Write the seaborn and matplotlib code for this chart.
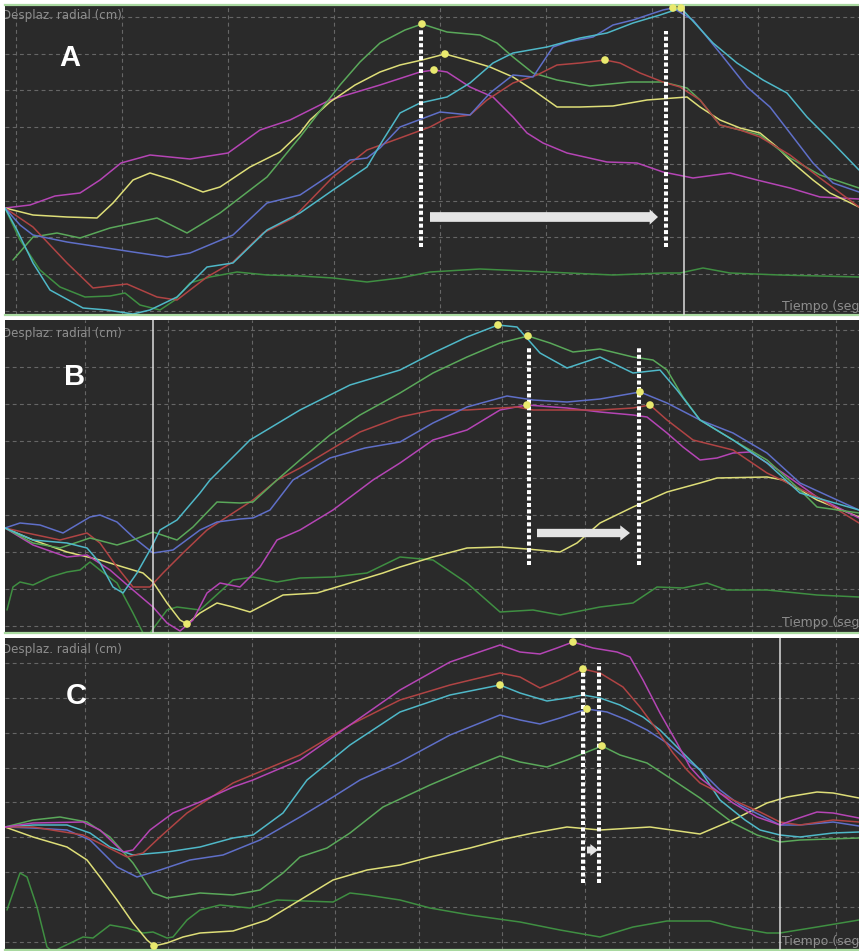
import matplotlib
matplotlib.use("Agg")
import matplotlib.pyplot as plt
import seaborn as sns

sns.set_theme(style="dark")
plt.rcParams["font.family"] = ["DejaVu Sans"]

# ---------------- Panel A: radial displacement per marker (time in frames) ----------------
A_T_GREEN = [13, 33, 57, 80, 110, 157, 187, 220, 267, 300, 340, 360, 380, 405, 422, 447, 480, 497, 513, 533, 557, 590, 630, 663, 687, 700, 720, 760, 790, 820, 859]
A_GREEN = [55, 78, 82, 77, 87, 97, 82, 102, 138, 178, 230, 253, 272, 285, 291, 283, 280, 272, 258, 242, 235, 229, 233, 233, 227, 215, 190, 180, 157, 140, 127]

A_T_YELLOW = [5, 33, 67, 97, 113, 133, 150, 173, 203, 220, 250, 280, 300, 310, 330, 355, 380, 400, 422, 445, 467, 490, 513, 533, 557, 580, 613, 647, 687, 700, 720, 740, 760, 777, 793, 813, 830, 859]
A_YELLOW = [107, 100, 98, 97, 112, 135, 142, 135, 123, 128, 148, 163, 182, 195, 213, 230, 243, 250, 255, 261, 255, 248, 238, 225, 208, 208, 209, 215, 218, 208, 195, 187, 182, 168, 152, 135, 122, 108]

A_T_MAGENTA = [5, 30, 55, 80, 100, 121, 150, 190, 228, 260, 290, 330, 380, 420, 434, 447, 470, 493, 513, 527, 543, 567, 607, 637, 663, 693, 730, 757, 790, 820, 859]
A_MAGENTA = [107, 110, 119, 122, 135, 152, 160, 156, 162, 185, 195, 215, 230, 243, 245, 243, 228, 218, 198, 182, 172, 162, 153, 152, 143, 137, 142, 135, 127, 118, 116]

A_T_RED = [5, 33, 67, 93, 127, 157, 177, 207, 233, 263, 293, 333, 367, 400, 430, 447, 470, 487, 513, 537, 557, 580, 605, 620, 640, 663, 680, 700, 720, 740, 760, 790, 820, 859]
A_RED = [107, 88, 52, 27, 31, 18, 15, 38, 53, 82, 97, 138, 165, 177, 188, 197, 200, 215, 232, 240, 250, 252, 255, 252, 242, 233, 228, 215, 190, 185, 178, 160, 137, 108]

A_T_BLUE = [5, 20, 33, 67, 100, 133, 167, 190, 233, 267, 300, 333, 350, 367, 380, 400, 440, 470, 490, 513, 533, 553, 567, 593, 613, 633, 663, 673, 693, 720, 747, 770, 790, 813, 833, 859]
A_BLUE = [107, 90, 80, 73, 68, 63, 58, 62, 80, 112, 120, 142, 155, 157, 167, 188, 203, 200, 222, 240, 238, 268, 273, 278, 290, 295, 305, 307, 295, 262, 228, 208, 182, 152, 132, 123]

A_T_CYAN = [5, 17, 33, 50, 83, 107, 133, 150, 177, 207, 233, 267, 300, 333, 367, 383, 400, 420, 447, 470, 493, 513, 547, 580, 607, 633, 660, 681, 713, 737, 763, 787, 807, 830, 859]
A_CYAN = [107, 85, 52, 25, 7, 5, 1, 5, 18, 48, 52, 85, 102, 125, 148, 175, 202, 212, 218, 232, 252, 262, 268, 277, 282, 292, 300, 307, 272, 252, 235, 222, 198, 175, 145]

A_T_DKGREEN = [5, 20, 40, 60, 85, 110, 125, 140, 160, 175, 190, 210, 237, 267, 300, 333, 367, 400, 430, 480, 547, 613, 663, 680, 703, 730, 780, 859]
A_DKGREEN = [107, 75, 45, 28, 18, 19, 22, 10, 5, 15, 32, 38, 43, 40, 39, 37, 33, 37, 43, 46, 43, 40, 42, 42, 47, 42, 40, 38]

A_PEAK_T = [422, 445, 434, 605, 673, 681]
A_PEAK_V = [291, 261, 245, 255, 307, 307]

# ---------------- Panel B ----------------
B_T_BLUE = [5, 20, 40, 63, 90, 100, 117, 133, 153, 173, 200, 217, 240, 253, 270, 293, 330, 365, 400, 433, 467, 507, 533, 567, 600, 640, 667, 700, 733, 767, 800, 859]
B_BLUE = [105, 110, 108, 100, 116, 118, 111, 96, 80, 83, 103, 111, 114, 115, 123, 153, 175, 185, 191, 210, 226, 237, 233, 231, 234, 241, 230, 213, 200, 180, 150, 123]

B_T_RED = [5, 27, 60, 87, 100, 117, 133, 150, 163, 183, 207, 233, 253, 277, 300, 330, 360, 400, 433, 467, 517, 533, 567, 600, 633, 650, 667, 693, 733, 767, 817, 859]
B_RED = [105, 100, 93, 100, 90, 66, 46, 46, 60, 80, 103, 120, 133, 153, 165, 183, 201, 216, 223, 223, 226, 223, 223, 223, 225, 228, 213, 193, 183, 160, 136, 110]

B_T_GREEN = [5, 33, 60, 90, 117, 133, 153, 177, 193, 217, 240, 253, 277, 300, 330, 360, 400, 433, 467, 500, 528, 550, 573, 600, 633, 653, 667, 683, 700, 733, 767, 800, 817, 859]
B_GREEN = [105, 90, 85, 95, 88, 93, 101, 93, 106, 131, 130, 131, 153, 173, 198, 218, 240, 260, 276, 290, 297, 290, 281, 284, 276, 273, 263, 236, 213, 193, 173, 143, 126, 120]

B_T_CYAN = [5, 33, 67, 87, 100, 113, 123, 137, 150, 160, 177, 200, 210, 250, 300, 350, 400, 433, 467, 498, 517, 540, 567, 600, 633, 660, 677, 700, 733, 767, 800, 859]
B_CYAN = [105, 93, 90, 85, 70, 46, 40, 60, 83, 103, 113, 140, 153, 193, 223, 248, 263, 280, 296, 308, 306, 280, 265, 276, 260, 263, 243, 213, 193, 170, 140, 123]

B_T_MAGENTA = [5, 33, 67, 87, 110, 133, 153, 167, 180, 193, 207, 220, 240, 260, 277, 300, 333, 373, 400, 433, 467, 500, 527, 567, 600, 633, 647, 667, 683, 700, 717, 733, 750, 783, 817, 859]
B_MAGENTA = [105, 88, 76, 78, 63, 43, 26, 10, 2, 13, 40, 50, 46, 66, 93, 103, 123, 153, 170, 193, 203, 223, 228, 225, 221, 218, 216, 200, 186, 173, 175, 180, 181, 160, 136, 115]

B_T_YELLOW = [5, 33, 67, 100, 123, 143, 153, 167, 180, 187, 200, 217, 233, 250, 283, 317, 350, 383, 400, 433, 467, 500, 527, 560, 577, 600, 633, 667, 700, 717, 767, 783, 817, 859]
B_YELLOW = [105, 93, 81, 73, 66, 60, 51, 30, 13, 9, 20, 30, 26, 21, 38, 40, 50, 60, 66, 76, 85, 86, 84, 81, 90, 110, 126, 141, 150, 155, 156, 153, 133, 116]

B_T_DKGREEN = [7, 13, 20, 33, 50, 67, 80, 90, 100, 117, 133, 143, 147, 150, 167, 177, 200, 233, 253, 277, 300, 333, 367, 400, 433, 467, 500, 533, 560, 600, 633, 657, 683, 707, 727, 767, 817, 859]
B_DKGREEN = [23, 46, 51, 48, 56, 61, 63, 71, 63, 50, 20, 0, -12, 0, 23, 26, 23, 53, 56, 51, 55, 56, 60, 76, 73, 50, 21, 23, 18, 26, 30, 46, 45, 50, 43, 43, 38, 36]

B_PEAK_T = [498, 528, 527, 640, 650, 187]
B_PEAK_V = [308, 297, 228, 241, 228, 9]

# ---------------- Panel C ----------------
C_T_MAGENTA = [5, 33, 83, 100, 123, 133, 150, 173, 200, 233, 253, 300, 350, 400, 450, 500, 520, 540, 557, 573, 593, 617, 630, 643, 660, 677, 690, 700, 733, 757, 780, 793, 817, 833, 859]
C_MAGENTA = [123, 127, 128, 120, 98, 100, 120, 137, 148, 163, 170, 190, 225, 260, 288, 305, 298, 296, 302, 308, 302, 298, 293, 270, 237, 207, 183, 172, 147, 133, 125, 130, 138, 137, 132]

C_T_RED = [5, 33, 83, 107, 127, 143, 160, 187, 207, 233, 300, 350, 400, 450, 500, 520, 540, 560, 583, 600, 623, 640, 657, 673, 687, 700, 733, 760, 780, 800, 833, 859]
C_RED = [123, 123, 115, 103, 93, 97, 113, 137, 150, 167, 195, 225, 250, 265, 277, 273, 262, 270, 281, 277, 263, 243, 220, 197, 180, 167, 150, 138, 128, 125, 130, 128]

C_T_CYAN = [5, 33, 67, 90, 110, 133, 167, 200, 233, 253, 283, 307, 350, 400, 450, 500, 520, 547, 567, 583, 600, 620, 643, 660, 680, 700, 720, 745, 760, 780, 800, 833, 859]
C_CYAN = [123, 125, 125, 117, 103, 95, 98, 103, 112, 115, 137, 170, 205, 238, 255, 265, 257, 249, 252, 255, 252, 245, 233, 220, 200, 180, 150, 130, 120, 115, 113, 117, 118]

C_T_BLUE = [5, 33, 67, 90, 117, 137, 160, 190, 223, 260, 300, 333, 360, 400, 450, 500, 520, 540, 560, 587, 607, 627, 647, 667, 687, 700, 720, 740, 760, 780, 800, 833, 859]
C_BLUE = [123, 122, 120, 110, 83, 73, 80, 90, 95, 110, 133, 153, 170, 188, 215, 235, 230, 226, 232, 241, 238, 230, 220, 207, 190, 180, 160, 145, 135, 125, 125, 128, 124]

C_T_GREEN = [5, 33, 60, 87, 110, 133, 153, 167, 200, 233, 260, 283, 300, 327, 350, 383, 430, 470, 500, 520, 547, 567, 587, 602, 620, 647, 673, 700, 733, 757, 780, 800, 859]
C_GREEN = [123, 130, 133, 128, 113, 87, 57, 52, 57, 55, 60, 77, 93, 102, 117, 143, 165, 182, 194, 188, 183, 190, 198, 204, 195, 187, 170, 152, 127, 115, 108, 110, 112]

C_T_YELLOW = [5, 33, 67, 87, 100, 117, 133, 147, 154, 167, 183, 200, 233, 267, 300, 333, 367, 400, 430, 470, 500, 533, 567, 600, 650, 700, 733, 767, 787, 817, 833, 859]
C_YELLOW = [123, 113, 103, 90, 73, 50, 27, 10, 4, 7, 13, 17, 19, 30, 50, 70, 80, 85, 93, 102, 110, 117, 123, 120, 123, 116, 130, 147, 153, 158, 157, 152]

C_T_DKGREEN = [7, 20, 27, 37, 47, 53, 60, 83, 93, 110, 127, 143, 153, 167, 173, 187, 200, 220, 250, 277, 333, 350, 367, 400, 430, 470, 520, 560, 600, 633, 667, 710, 733, 767, 780, 817, 859]
C_DKGREEN = [40, 77, 73, 43, 3, -2, 2, 13, 12, 25, 22, 17, 18, 12, 13, 30, 40, 45, 42, 50, 48, 57, 55, 50, 42, 35, 28, 20, 13, 23, 29, 29, 23, 17, 17, 23, 30]

C_PEAK_T = [573, 583, 500, 587, 602, 154]
C_PEAK_V = [308, 281, 265, 241, 204, 4]

# event markers (frames) and the cursor line of each recording
A_EVENTS, B_EVENTS, C_EVENTS = [421, 666], [529, 639], [583, 599]
A_CURSOR, B_CURSOR, C_CURSOR = 684, 153, 780

COLORS = {
    "green": "#5aa85a",
    "dkgreen": "#3f8f42",
    "yellow": "#dede78",
    "magenta": "#b545b5",
    "red": "#b04444",
    "blue": "#5f6fc8",
    "cyan": "#4fb8c8",
}

BG = "#2a2a2a"
GRID = "#666666"
BORDER = "#a9d9a0"
DOT = "#e9e96e"

W, H = 859, 951
fig = plt.figure(figsize=(W / 100, H / 100), dpi=100, facecolor="white")


def make_axes(top, bottom):
    return fig.add_axes([5 / W, 1 - bottom / H, (W - 5) / W, (bottom - top) / H])


panels = [
    dict(
        ax=make_axes(5, 315), letter="A", ymax=310, xgrid=(16, 106), ygrid=(4, 36.75),
        curves=[(A_T_DKGREEN, A_DKGREEN, "dkgreen"), (A_T_MAGENTA, A_MAGENTA, "magenta"),
                (A_T_YELLOW, A_YELLOW, "yellow"), (A_T_GREEN, A_GREEN, "green"),
                (A_T_RED, A_RED, "red"), (A_T_BLUE, A_BLUE, "blue"), (A_T_CYAN, A_CYAN, "cyan")],
        peaks=(A_PEAK_T, A_PEAK_V), events=A_EVENTS, ev_span=[(68, 287), (68, 284)],
        cursor=A_CURSOR, arrow=((430, 98), (658, 98), 0.7, 1.1, 0.6),
        label_y=0.965, letter_xy=(0.076, 0.829), tiempo_y=0.026, top_border=True,
    ),
    dict(
        ax=make_axes(320, 633), letter="B", ymax=313, xgrid=(85, 83.4), ygrid=(7, 37),
        curves=[(B_T_DKGREEN, B_DKGREEN, "dkgreen"), (B_T_YELLOW, B_YELLOW, "yellow"),
                (B_T_MAGENTA, B_MAGENTA, "magenta"), (B_T_RED, B_RED, "red"),
                (B_T_BLUE, B_BLUE, "blue"), (B_T_GREEN, B_GREEN, "green"), (B_T_CYAN, B_CYAN, "cyan")],
        peaks=(B_PEAK_T, B_PEAK_V), events=B_EVENTS, ev_span=[(68, 286), (68, 286)],
        cursor=B_CURSOR, arrow=((537, 100), (630, 100), 0.6, 1.1, 0.7),
        label_y=0.958, letter_xy=(0.082, 0.818), tiempo_y=0.032, top_border=False,
    ),
    dict(
        ax=make_axes(638, 950), letter="C", ymax=312, xgrid=(85, 83.4), ygrid=(8, 34.9),
        curves=[(C_T_DKGREEN, C_DKGREEN, "dkgreen"), (C_T_YELLOW, C_YELLOW, "yellow"),
                (C_T_GREEN, C_GREEN, "green"), (C_T_BLUE, C_BLUE, "blue"),
                (C_T_CYAN, C_CYAN, "cyan"), (C_T_RED, C_RED, "red"), (C_T_MAGENTA, C_MAGENTA, "magenta")],
        peaks=(C_PEAK_T, C_PEAK_V), events=C_EVENTS, ev_span=[(67, 280), (67, 287)],
        cursor=C_CURSOR, arrow=((587, 100), (598, 100), 0.5, 0.85, 0.55),
        label_y=0.962, letter_xy=(0.084, 0.814), tiempo_y=0.026, top_border=False,
    ),
]

for p in panels:
    ax = p["ax"]
    ax.set_facecolor(BG)
    ax.set_xlim(5, W)
    ax.set_ylim(0, p["ymax"])

    x0, dx = p["xgrid"]
    y0, dy = p["ygrid"]
    xt, v = [], x0
    while v < W:
        xt.append(v)
        v += dx
    yt, v = [], y0
    while v < p["ymax"]:
        yt.append(v)
        v += dy
    ax.set_xticks(xt)
    ax.set_yticks(yt)
    ax.tick_params(length=0, labelbottom=False, labelleft=False)
    ax.grid(True, color=GRID, linestyle=(0, (3.5, 3)), linewidth=0.8)

    for name, sp in ax.spines.items():
        sp.set_visible(False)
    ax.spines["bottom"].set_visible(True)
    ax.spines["bottom"].set_color(BORDER)
    ax.spines["bottom"].set_linewidth(1.6)
    if p["top_border"]:
        ax.spines["top"].set_visible(True)
        ax.spines["top"].set_color(BORDER)
        ax.spines["top"].set_linewidth(1.6)

    for t, vals, c in p["curves"]:
        sns.lineplot(x=t, y=vals, ax=ax, color=COLORS[c], linewidth=1.1,
                     sort=False, estimator=None, legend=False)

    ax.axvline(p["cursor"], color="#dcdcdc", linewidth=1.1, zorder=3)

    for x, (lo, hi) in zip(p["events"], p["ev_span"]):
        ax.vlines(x, lo, hi, colors="white", linewidth=2.9,
                  linestyles=[(0, (1.0, 0.6))], zorder=4)

    (xa, ya), (xb, yb), tw, hw, hl = p["arrow"]
    ax.annotate("", xy=(xb, yb), xytext=(xa, ya),
                arrowprops=dict(arrowstyle=f"simple,head_length={hl},head_width={hw},tail_width={tw}",
                                color="#e4e4e4", mutation_scale=10, shrinkA=0, shrinkB=0,
                                linewidth=0),
                zorder=5)

    pt, pv = p["peaks"]
    sns.scatterplot(x=pt, y=pv, ax=ax, color=DOT, s=30, edgecolor="none",
                    zorder=6, clip_on=False, legend=False)

    ax.text(-0.004, p["label_y"], "Desplaz. radial (cm)", transform=ax.transAxes,
            color="#8e8e8e", fontsize=8.6, ha="left", va="center", clip_on=True)
    ax.text(0.910, p["tiempo_y"], "Tiempo (seg)", transform=ax.transAxes,
            color="#8e8e8e", fontsize=9, ha="left", va="center", clip_on=False)
    lx, ly = p["letter_xy"]
    ax.text(lx, ly, p["letter"], transform=ax.transAxes, color="white",
            fontsize=21, fontweight="bold", ha="center", va="center",
            family=["Liberation Sans", "DejaVu Sans"])
    ax.set_xlabel("")
    ax.set_ylabel("")

fig.savefig("out.png", dpi=100, facecolor="white")
